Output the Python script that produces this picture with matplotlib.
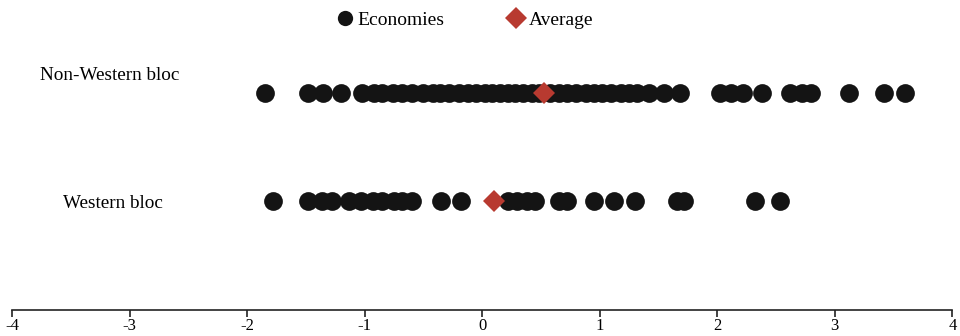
import matplotlib
matplotlib.use("Agg")
import matplotlib.pyplot as plt
from matplotlib.lines import Line2D

plt.rcParams['font.family'] = ['Liberation Serif', 'DejaVu Serif']

groups = ["Non-Western bloc", "Western bloc"]
non_western = [-1.85, -1.48, -1.35, -1.20, -1.02, -0.92, -0.85, -0.76, -0.68, -0.60,
               -0.50, -0.42, -0.36, -0.28, -0.20, -0.12, -0.05, 0.02, 0.08, 0.15,
               0.22, 0.28, 0.35, 0.42, 0.48, 0.58, 0.65, 0.72, 0.80, 0.88, 0.95,
               1.02, 1.10, 1.18, 1.25, 1.32, 1.42, 1.55, 1.68, 2.02, 2.12, 2.22,
               2.38, 2.62, 2.72, 2.80, 3.12, 3.42, 3.60]
western = [-1.78, -1.48, -1.36, -1.28, -1.13, -1.03, -0.93, -0.85, -0.75, -0.68,
           -0.60, -0.35, -0.18, 0.22, 0.30, 0.38, 0.45, 0.65, 0.72, 0.95, 1.12,
           1.30, 1.66, 1.72, 2.32, 2.53]
averages = [0.53, 0.10]
xticks = [-4, -3, -2, -1, 0, 1, 2, 3, 4]

dot_color = '#141414'
avg_color = '#B83A30'

fig = plt.figure(figsize=(9.6, 3.36), dpi=100)
ax = fig.add_axes([0.0125, 1 - 310 / 336, 0.9795, 310 / 336])

rows = [2, 1]
for yv, vals, avg in zip(rows, [non_western, western], averages):
    ax.plot(vals, [yv] * len(vals), 'o', markersize=13.5, color=dot_color,
            markeredgewidth=0, zorder=2)
    ax.plot([avg], [yv], 'D', markersize=11.5, color=avg_color,
            markeredgewidth=0, zorder=3)

ax.text(-3.17, 2.16, groups[0], ha='center', va='center', fontsize=13.8)
ax.text(-3.14, 0.98, groups[1], ha='center', va='center', fontsize=13.8)

ax.set_xlim(-4, 4)
ax.set_ylim(-0.009, 2.861)
ax.set_xticks(xticks)
ax.set_xticklabels([str(t) for t in xticks], fontsize=12)
ax.set_yticks([])
for s in ['top', 'right', 'left']:
    ax.spines[s].set_visible(False)
ax.spines['bottom'].set_linewidth(1.2)
ax.spines['bottom'].set_color('#222222')
ax.tick_params(axis='x', direction='out', length=5, width=1.2, color='#222222', pad=1)

handles = [Line2D([], [], marker='o', linestyle='none', markersize=11, color=dot_color, markeredgewidth=0),
           Line2D([], [], marker='D', linestyle='none', markersize=11.5, color=avg_color, markeredgewidth=0)]
fig.legend(handles, ['Economies', 'Average'], loc='center', bbox_to_anchor=(0.483, 0.94),
           ncol=2, frameon=False, fontsize=14, handletextpad=0.1, columnspacing=3.1,
           handlelength=1.1)

fig.savefig('out.png', dpi=100)
